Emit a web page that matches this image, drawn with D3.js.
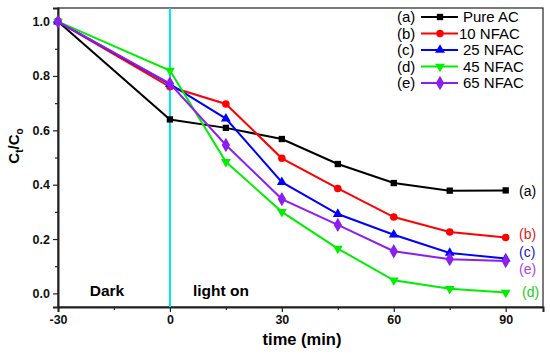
<!DOCTYPE html>
<html><head><meta charset="utf-8">
<script src="https://cdn.jsdelivr.net/npm/d3@7"></script>
<style>body{margin:0;background:#fff}svg{display:block}text{font-family:Arial,"Liberation Sans",sans-serif}</style>
</head><body><svg id="c" width="550" height="354"></svg>
<script>
const times = [-30, 0, 15, 30, 45, 60, 75, 90];
const pureAC = [1.0, 0.64, 0.609, 0.568, 0.476, 0.406, 0.378, 0.379];
const nfac10 = [1.0, 0.76, 0.697, 0.497, 0.386, 0.281, 0.226, 0.206];
const nfac25 = [1.0, 0.77, 0.643, 0.409, 0.292, 0.216, 0.149, 0.128];
const nfac45 = [1.0, 0.82, 0.484, 0.300, 0.165, 0.048, 0.017, 0.003];
const nfac65 = [1.0, 0.772, 0.546, 0.347, 0.252, 0.155, 0.126, 0.119];
const seriesNames = ["Pure AC", "10 NFAC", "25 NFAC", "45 NFAC", "65 NFAC"];
const seriesTags = ["(a)", "(b)", "(c)", "(d)", "(e)"];
const xTicks = [-30, 0, 30, 60, 90];
const yTicks = [0.0, 0.2, 0.4, 0.6, 0.8, 1.0];

const colors = ["#000000", "#ff0000", "#0000ff", "#00ee00", "#8a20f0"];
const tagColors = ["#000000", "#e02020", "#2020c0", "#22cc22", "#b040e8"];
const symbols = [d3.symbolSquare, d3.symbolCircle, d3.symbolTriangle, d3.symbolTriangle, d3.symbolDiamond];
const symRot = [0, 0, 0, 180, 0];
const symSize = [40, 45, 42, 42, 60];
const allSeries = [pureAC, nfac10, nfac25, nfac45, nfac65];

const svg = d3.select("#c");
const L = 58, R = 543, T = 8, B = 307;
const x = d3.scaleLinear().domain([-30, 100]).range([L, R]);
const y = d3.scaleLinear().domain([-0.05, 1.05]).range([B, T]);

// frame
svg.append("rect").attr("x", L).attr("y", T).attr("width", R - L).attr("height", B - T)
  .attr("fill", "none").attr("stroke", "#222").attr("stroke-width", 1.2);

// axes
svg.append("g").attr("transform", `translate(0,${B})`)
  .call(d3.axisBottom(x).tickValues(xTicks).tickSize(5).tickPadding(3).tickFormat(d => String(d)));
svg.append("g").attr("transform", `translate(0,${B})`)
  .call(d3.axisBottom(x).tickValues([-15, 15, 45, 75]).tickSize(3).tickFormat(""))
  .select(".domain").remove();
svg.append("g").attr("transform", `translate(${L},0)`)
  .call(d3.axisLeft(y).tickValues(yTicks).tickSize(5).tickPadding(3).tickFormat(d3.format(".1f")));
svg.append("g").attr("transform", `translate(${L},0)`)
  .call(d3.axisLeft(y).tickValues([0.1, 0.3, 0.5, 0.7, 0.9]).tickSize(3).tickFormat(""))
  .select(".domain").remove();
svg.selectAll(".domain").attr("stroke", "#222").attr("stroke-width", 2);
svg.selectAll(".tick line").attr("stroke", "#222").attr("stroke-width", 1.2);
svg.selectAll(".tick text").attr("font-size", 12.5).attr("font-weight", "bold").attr("fill", "#111")
  .style("font-family", "Arial, 'Liberation Sans', sans-serif");

// cyan line
svg.append("line").attr("x1", x(0)).attr("x2", x(0)).attr("y1", T).attr("y2", B)
  .attr("stroke", "#00e0f0").attr("stroke-width", 2);

// series
const line = d3.line().x((d, i) => x(times[i])).y(d => y(d));
allSeries.forEach((vals, s) => {
  svg.append("path").datum(vals).attr("d", line).attr("fill", "none")
    .attr("stroke", colors[s]).attr("stroke-width", 2);
  const sym = d3.symbol().type(symbols[s]).size(symSize[s]);
  svg.append("g").selectAll("path").data(vals).join("path")
    .attr("d", sym)
    .attr("transform", (d, i) => `translate(${x(times[i])},${y(d)}) rotate(${symRot[s]})`)
    .attr("fill", colors[s]);
});

// end tags
const tagY = [191, 234, 252, 292, 269];
const tagX = [519, 519, 519, 522, 519];
seriesTags.forEach((t, s) => {
  svg.append("text").attr("x", tagX[s]).attr("y", tagY[s]).attr("dy", "0.35em")
    .attr("font-size", 14).attr("fill", tagColors[s]).text(t);
});

// legend
const legY0 = 17, legDy = 16.5;
seriesNames.forEach((n, s) => {
  const yy = legY0 + s * legDy;
  svg.append("text").attr("x", 397).attr("y", yy).attr("dy", "0.35em").attr("font-size", 15)
    .attr("fill", "#000").text(seriesTags[s]);
  svg.append("line").attr("x1", 421).attr("x2", 458).attr("y1", yy).attr("y2", yy)
    .attr("stroke", colors[s]).attr("stroke-width", 2);
  const sym = d3.symbol().type(symbols[s]).size(symSize[s]);
  svg.append("path").attr("d", sym).attr("transform", `translate(440,${yy}) rotate(${symRot[s]})`)
    .attr("fill", colors[s]);
  svg.append("text").attr("x", s === 1 ? 459 : 463).attr("y", yy).attr("dy", "0.35em").attr("font-size", 15)
    .attr("fill", "#000").text(n);
});

// annotations
svg.append("text").attr("x", 107).attr("y", 296).attr("text-anchor", "middle").attr("font-size", 15.5)
  .attr("font-weight", "bold").text("Dark");
svg.append("text").attr("x", 193).attr("y", 296).attr("font-size", 15.5)
  .attr("font-weight", "bold").text("light on");

// axis titles
svg.append("text").attr("x", 302).attr("y", 345).attr("text-anchor", "middle").attr("font-size", 16.5)
  .attr("font-weight", "bold").text("time (min)");
const yt = svg.append("text").attr("transform", "translate(19,146) rotate(-90)").attr("text-anchor", "middle")
  .attr("font-size", 15).attr("font-weight", "bold");
yt.append("tspan").text("C");
yt.append("tspan").attr("font-size", 10).attr("dy", 4).text("t");
yt.append("tspan").attr("dy", -4).text("/C");
yt.append("tspan").attr("font-size", 10).attr("dy", 4).text("o");
</script></body></html>
